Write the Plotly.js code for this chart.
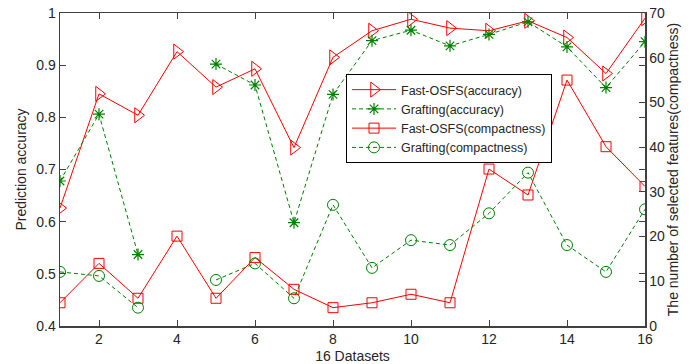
<!DOCTYPE html>
<html>
<head>
<meta charset="utf-8">
<script src="https://cdn.plot.ly/plotly-3.0.1.min.js"></script>
<style>
html,body{margin:0;padding:0;background:#fff;}
#chart{width:692px;height:364px;}
</style>
</head>
<body>
<div id="chart"></div>
<script>
const datasets = [1,2,3,4,5,6,7,8,9,10,11,12,13,14,15,16];
const fastAcc = [0.626,0.845,0.804,0.926,0.858,0.893,0.742,0.915,0.966,0.988,0.971,0.966,0.985,0.953,0.884,0.990];
const graftAcc = [0.678,0.806,0.537,null,0.902,0.862,0.598,0.844,0.947,0.967,0.937,0.959,0.983,0.935,0.857,0.945];
const fastComp = [5.2,14.0,6.2,20.1,6.2,15.3,8.2,4.1,5.2,7.1,5.2,35.1,29.3,55.0,40.1,31.2];
const graftComp = [12.1,11.2,4.1,null,10.3,14.0,6.2,27.1,13.0,19.2,18.1,25.2,34.3,18.1,12.1,26.1];
const xTicks = [2,4,6,8,10,12,14,16];

const red = '#ff0000';
const green = '#008000';
const font = 'Arial, "Liberation Sans", sans-serif';

const traces = [
  {x: datasets, y: fastAcc, name: 'Fast-OSFS(accuracy)', mode: 'lines+markers',
   line: {color: red, width: 1},
   marker: {symbol: 'triangle-right-open', size: 13, color: red, line: {width: 1, color: red}}},
  {x: datasets, y: graftAcc, name: 'Grafting(accuracy)', mode: 'lines+markers',
   connectgaps: false,
   line: {color: green, width: 1, dash: '4px,3px'},
   marker: {symbol: 'asterisk-open', size: 10, color: green, line: {width: 1.2, color: green}}},
  {x: datasets, y: fastComp, name: 'Fast-OSFS(compactness)', mode: 'lines+markers', yaxis: 'y2',
   line: {color: red, width: 1},
   marker: {symbol: 'square-open', size: 10, color: red, line: {width: 1, color: red}}},
  {x: datasets, y: graftComp, name: 'Grafting(compactness)', mode: 'lines+markers', yaxis: 'y2',
   connectgaps: false,
   line: {color: green, width: 1, dash: '4px,3px'},
   marker: {symbol: 'circle-open', size: 11, color: green, line: {width: 1, color: green}}}
];

const layout = {
  width: 692, height: 364,
  margin: {l: 60, r: 47, t: 13, b: 38, pad: 0},
  paper_bgcolor: '#fff', plot_bgcolor: '#fff',
  font: {family: font, size: 14, color: '#262626'},
  showlegend: true,
  legend: {
    x: (346 - 60) / 585, y: (326 - 74) / 313, xref: 'paper', yref: 'paper',
    xanchor: 'left', yanchor: 'top',
    bgcolor: '#fff', bordercolor: '#000', borderwidth: 1,
    font: {family: font, size: 12.5, color: '#262626'},
    itemwidth: 44, tracegroupgap: 0
  },
  xaxis: {
    range: [1, 16], tickvals: xTicks, ticktext: xTicks.map(String),
    ticks: 'inside', ticklen: 6, tickcolor: '#404040', tickwidth: 1,
    showline: true, linecolor: '#404040', linewidth: 1.5, mirror: 'ticks',
    showgrid: false, zeroline: false,
    tickfont: {family: font, size: 14, color: '#262626'},
    title: {text: '16 Datasets', font: {family: font, size: 14, color: '#262626'}, standoff: 6}
  },
  yaxis: {
    range: [0.4, 1], dtick: 0.1, tick0: 0.4,
    ticks: 'inside', ticklen: 6, tickcolor: '#404040',
    showline: true, linecolor: '#404040', linewidth: 1.5, mirror: 'ticks',
    showgrid: false, zeroline: false,
    tickfont: {family: font, size: 14, color: '#262626'},
    title: {text: 'Prediction accuracy', font: {family: font, size: 14, color: '#262626'}, standoff: 6}
  },
  yaxis2: {
    range: [0, 70], dtick: 10, tick0: 0,
    overlaying: 'y', side: 'right',
    ticks: 'inside', ticklen: 6, tickcolor: '#404040',
    showline: true, linecolor: '#404040', linewidth: 1.5,
    showgrid: false, zeroline: false,
    tickfont: {family: font, size: 14, color: '#262626'},
    title: {text: 'The number of selected features(compactness)', font: {family: font, size: 14, color: '#262626'}, standoff: 4}
  }
};

Plotly.newPlot('chart', traces, layout, {displayModeBar: false, staticPlot: true});
</script>
</body>
</html>
